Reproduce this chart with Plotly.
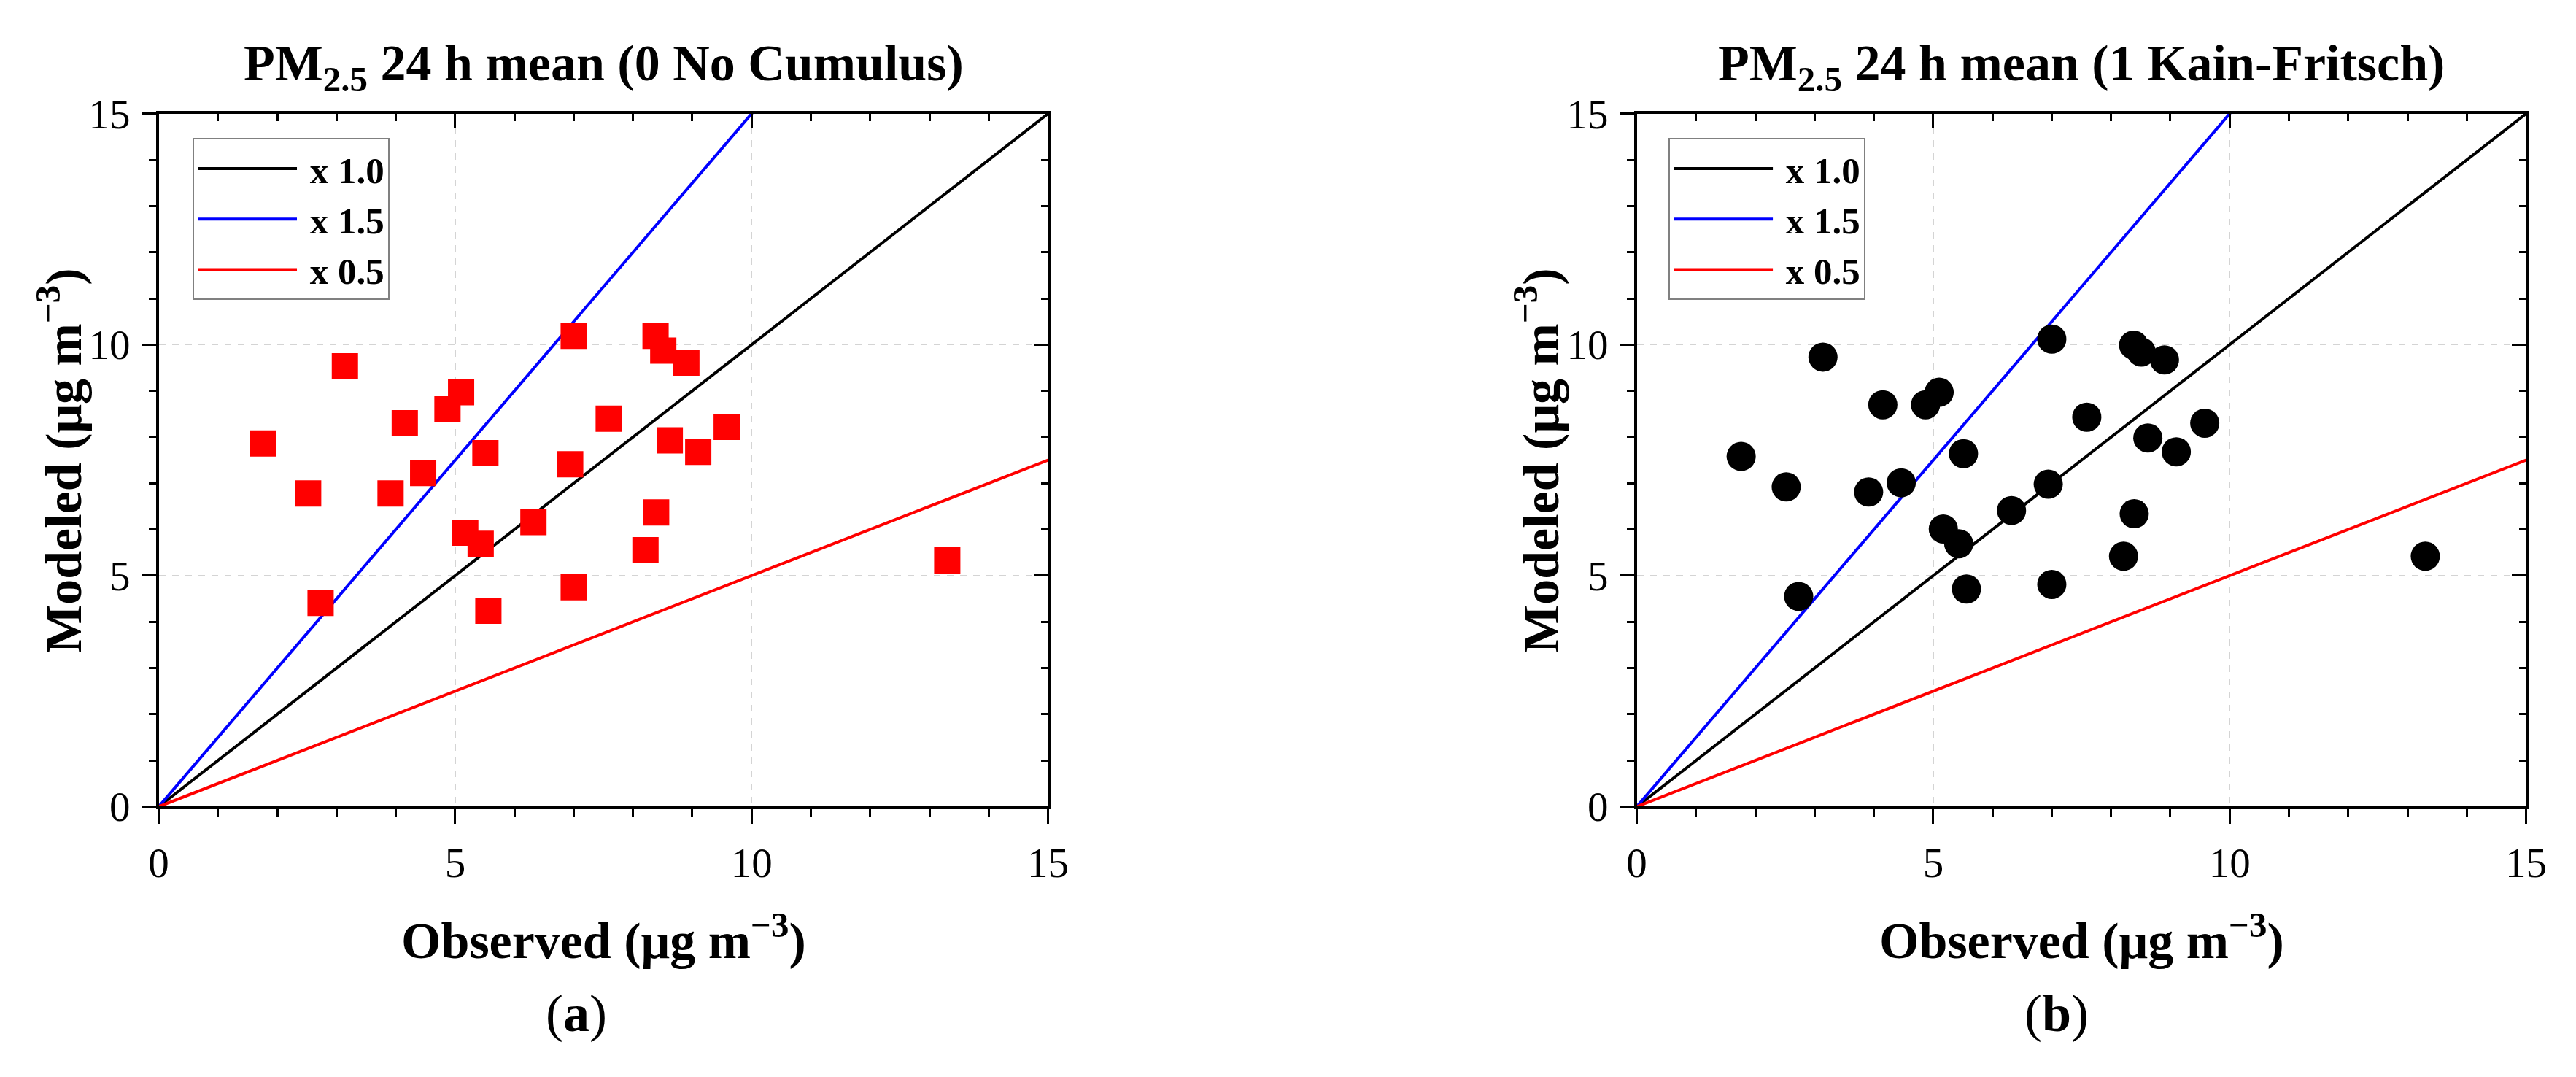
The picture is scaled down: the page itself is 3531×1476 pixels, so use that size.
import plotly.graph_objects as go

# observed PM2.5 (same stations in both panels)
obs = [1.76, 2.52, 2.73, 3.14, 3.91, 4.15, 4.46, 4.87, 5.10, 5.17, 5.43, 5.51, 5.56, 6.32,
       7.00, 6.94, 7.00, 7.59, 8.21, 8.38, 8.39, 8.51, 8.62, 8.90, 9.10, 9.58, 13.30]
# modeled, 0 No Cumulus
mod_nocu = [7.86, 6.78, 4.41, 9.53, 6.78, 8.30, 7.22, 8.60, 8.97, 5.93, 5.69, 7.65, 4.24, 6.16,
            10.19, 7.41, 4.75, 8.40, 5.55, 10.19, 6.37, 9.87, 7.93, 9.61, 7.68, 8.22, 5.33]
# modeled, 1 Kain-Fritsch
mod_kf = [7.58, 6.92, 4.55, 9.73, 6.81, 8.70, 7.01, 8.70, 8.97, 6.01, 5.69, 7.64, 4.71, 6.41,
          10.12, 6.98, 4.81, 8.43, 5.42, 9.99, 6.34, 9.84, 7.98, 9.67, 7.68, 8.30, 5.42]

ratio_names = ['x 1.0', 'x 1.5', 'x 0.5']
ratios = [1.0, 1.5, 0.5]
ratio_colors = ['black', 'blue', 'red']
line_x = [0, 15]

titles = ['PM<sub>2.5</sub> 24 h mean (0 No Cumulus)', 'PM<sub>2.5</sub> 24 h mean (1 Kain-Fritsch)']
panel_tags = ['(<b>a</b>)', '(<b>b</b>)']

FONT = 'Liberation Serif'
W, H = 3531, 1476

fig = go.Figure()

panels = [
    dict(x='x', y='y', xt='x3', yr='y3', legend='legend', mod=mod_nocu, sym='square', col='red', size=36),
    dict(x='x2', y='y2', xt='x4', yr='y4', legend='legend2', mod=mod_kf, sym='circle', col='black', size=40),
]

for k, p in enumerate(panels):
    for name, r, c in zip(ratio_names, ratios, ratio_colors):
        # nbsp in front = small gap between the legend line and its label
        fig.add_trace(go.Scatter(x=line_x, y=[r * v for v in line_x], mode='lines', name='\u00a0' + name,
                                 line=dict(color=c, width=4), xaxis=p['x'], yaxis=p['y'],
                                 legend=p['legend']))
    fig.add_trace(go.Scatter(x=obs, y=p['mod'], mode='markers', showlegend=False,
                             marker=dict(symbol=p['sym'], color=p['col'], size=p['size'], line=dict(width=0)),
                             xaxis=p['x'], yaxis=p['y']))
    # hidden copies so the top / right tick axes get drawn
    fig.add_trace(go.Scatter(x=obs, y=p['mod'], mode='markers', showlegend=False, hoverinfo='skip',
                             marker=dict(opacity=0), xaxis=p['xt'], yaxis=p['y']))
    fig.add_trace(go.Scatter(x=obs, y=p['mod'], mode='markers', showlegend=False, hoverinfo='skip',
                             marker=dict(opacity=0), xaxis=p['x'], yaxis=p['yr']))

# plot area in pixels
doms_x = [[198 / W, 1432 / W], [2249 / W, 3483 / W]]
dom_y = [1 - 1114 / H, 1 - 122 / H]

tickfont = dict(family=FONT, size=57, color='black')

def main_axis(dom, anchor):
    return dict(domain=dom, anchor=anchor, range=[0, 15], dtick=5, tick0=0,
                ticks='outside', ticklen=20, tickwidth=3, tickcolor='black',
                minor=dict(ticks='outside', ticklen=10, tickwidth=3, dtick=1, tickcolor='black', showgrid=False),
                showline=True, linecolor='black', linewidth=3.5, mirror=True,
                showgrid=True, gridcolor='#d4d4d4', gridwidth=1.5, griddash='dash',
                zeroline=False, tickfont=tickfont, ticklabelstandoff=4)

def mirror_axis(over, anchor, side):
    return dict(overlaying=over, anchor=anchor, side=side, range=[0, 15], dtick=5, tick0=0,
                ticks='inside', ticklen=20, tickwidth=3, tickcolor='black',
                minor=dict(ticks='inside', ticklen=10, tickwidth=3, dtick=1, tickcolor='black', showgrid=False),
                showticklabels=False, showgrid=False, showline=False, zeroline=False)

fig.update_layout(
    xaxis=main_axis(doms_x[0], 'y'),
    yaxis=main_axis(dom_y, 'x'),
    xaxis2=main_axis(doms_x[1], 'y2'),
    yaxis2=main_axis(dom_y, 'x2'),
    xaxis3=mirror_axis('x', 'y', 'top'),
    yaxis3=mirror_axis('y', 'x', 'right'),
    xaxis4=mirror_axis('x2', 'y2', 'top'),
    yaxis4=mirror_axis('y2', 'x2', 'right'),
)

legend_style = dict(xanchor='left', yanchor='top', bgcolor='white', bordercolor='#808080',
                    borderwidth=2, itemwidth=136,
                    font=dict(family=FONT, size=51, color='black', weight='bold'))
fig.update_layout(
    legend=dict(x=245 / W, y=1 - 157 / H, **legend_style),
    legend2=dict(x=2293 / W, y=1 - 157 / H, **legend_style),
)

bold = dict(family=FONT, size=70, color='black', weight='bold')
centers = [815 / W, 2866 / W]
ylab_x = [60 / W, 2110 / W]
tag_x = [777 / W, 2831 / W]
ann = []
for i in range(2):
    ann.append(dict(text=titles[i], x=centers[i], y=1 - 55 / H, xref='paper', yref='paper',
                    showarrow=False, font=bold, xanchor='center', yanchor='middle'))
    ann.append(dict(text='Observed (μg m<sup>−3</sup>)', x=centers[i], y=1 - 1300 / H,
                    xref='paper', yref='paper', showarrow=False, font=bold,
                    xanchor='center', yanchor='middle'))
    ann.append(dict(text='Modeled (μg m<sup>−3</sup>)', x=ylab_x[i], y=1 - 618 / H,
                    xref='paper', yref='paper', showarrow=False, font=bold, textangle=-90,
                    xanchor='center', yanchor='middle'))
    ann.append(dict(text=panel_tags[i], x=tag_x[i], y=1 - 1410 / H, xref='paper', yref='paper',
                    showarrow=False, font=dict(family=FONT, size=72, color='black'),
                    xanchor='center', yanchor='middle'))

fig.update_layout(annotations=ann, width=W, height=H, margin=dict(l=0, r=0, t=0, b=0),
                  plot_bgcolor='white', paper_bgcolor='white', font=dict(family=FONT))

fig.write_html("out.html")
